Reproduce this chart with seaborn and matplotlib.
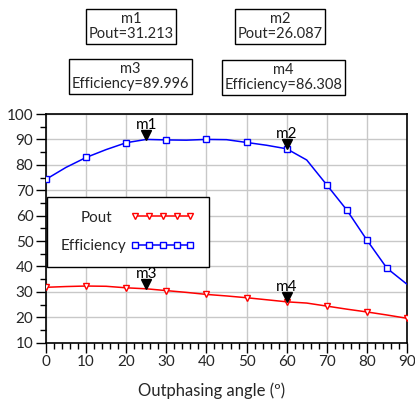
import numpy as np
import pandas as pd
import matplotlib
matplotlib.use("Agg")
import matplotlib.pyplot as plt
from matplotlib.lines import Line2D
from matplotlib.ticker import MultipleLocator
import matplotlib.transforms as mtransforms
import seaborn as sns

# ---- data ----
angle = [0, 5, 10, 15, 20, 25, 30, 35, 40, 45, 50, 55, 60, 65, 70, 75, 80, 85, 90]
efficiency = [74.3, 79.0, 82.9, 86.0, 88.7, 89.996, 89.8, 89.7, 90.0, 89.9, 88.8, 87.7, 86.308, 81.9, 72.1, 62.2, 50.4, 39.3, 33.0]
pout = [31.8, 32.1, 32.3, 32.2, 31.6, 31.213, 30.5, 29.8, 29.0, 28.4, 27.7, 26.9, 26.087, 25.6, 24.4, 23.2, 22.1, 20.9, 19.6]
eff_marker_angles = [0, 10, 20, 30, 40, 50, 60, 70, 75, 80, 85]
pout_marker_angles = [0, 10, 20, 30, 40, 50, 60, 70, 80, 90]
marker_names = ["m1", "m2", "m3", "m4"]
marker_angles = [25, 60, 25, 60]
marker_series = ["Efficiency", "Efficiency", "Pout", "Pout"]
box_lines = [("m1", "Pout=31.213"), ("m2", "Pout=26.087"),
             ("m3", "Efficiency=89.996"), ("m4", "Efficiency=86.308")]
x_ticks = [0, 10, 20, 30, 40, 50, 60, 70, 80, 90]
y_ticks = [10, 20, 30, 40, 50, 60, 70, 80, 90, 100]

df = pd.DataFrame({"angle": angle, "Efficiency": efficiency, "Pout": pout})

sns.set_theme(style="white")
plt.rcParams["font.family"] = ["Lato", "DejaVu Sans"]

fig = plt.figure(figsize=(4.15, 4.01), dpi=100)
ax = fig.add_axes([46 / 415, 1 - 342.7 / 401, 361 / 415, 228.7 / 401])

RED = "#ff0000"
BLUE = "#0000ff"

eff_idx = [angle.index(a) for a in eff_marker_angles]
pout_idx = [angle.index(a) for a in pout_marker_angles]

sns.lineplot(data=df, x="angle", y="Pout", ax=ax, color=RED, linewidth=1.1,
             marker="v", markersize=5, markerfacecolor="white", markeredgecolor=RED,
             markeredgewidth=1.0, markevery=pout_idx, zorder=3)
sns.lineplot(data=df, x="angle", y="Efficiency", ax=ax, color=BLUE, linewidth=1.1,
             marker="s", markersize=4.5, markerfacecolor="white", markeredgecolor=BLUE,
             markeredgewidth=1.0, markevery=eff_idx, zorder=3)

ax.set_xlim(0, 90)
ax.set_ylim(10, 100)
ax.set_xticks(x_ticks)
ax.set_yticks(y_ticks)
ax.xaxis.set_minor_locator(MultipleLocator(2))
ax.yaxis.set_minor_locator(MultipleLocator(5))
ax.grid(True, which="major", color="#c8c8c8", linewidth=1.0)
ax.set_axisbelow(True)
for s in ax.spines.values():
    s.set_visible(True)
    s.set_color("black")
    s.set_linewidth(1.2)

ax.tick_params(axis="x", which="major", direction="out", length=7, width=1.0,
               color="black", labelsize=11, pad=2, bottom=True)
ax.tick_params(axis="x", which="minor", direction="out", length=4, width=1.0,
               color="black", bottom=True)
ax.tick_params(axis="y", which="major", direction="out", length=7, width=1.0,
               color="black", labelsize=11, pad=2, left=True)
ax.tick_params(axis="y", which="minor", direction="out", length=4, width=1.0,
               color="black", left=True)

ax.set_xlabel("Outphasing angle (º)", fontsize=12)
ax.set_ylabel("")
ax.xaxis.set_label_coords(0.46, -0.175)

# marker triangles and labels
series_map = {"Efficiency": efficiency, "Pout": pout}
tri_tr = mtransforms.offset_copy(ax.transData, fig=fig, x=0, y=3.2, units="points")
for name, a, ser in zip(marker_names, marker_angles, marker_series):
    yv = series_map[ser][angle.index(a)]
    ax.plot([a], [yv], marker="v", color="black", markersize=6.5, linestyle="none",
            transform=tri_tr, zorder=5)
    ax.annotate(name, xy=(a, yv), xytext=(0, 10.5), textcoords="offset points",
                ha="center", va="center", fontsize=11, color="black", zorder=6)

# legend (proxy handles)
handles = [
    Line2D([], [], color=RED, linewidth=1.1, marker="v", markersize=5,
           markerfacecolor="white", markeredgecolor=RED, markeredgewidth=1.0),
    Line2D([], [], color=BLUE, linewidth=1.1, marker="s", markersize=4.5,
           markerfacecolor="white", markeredgecolor=BLUE, markeredgewidth=1.0),
]
leg = ax.legend(handles, ["Pout", "Efficiency"], loc="upper left",
                bbox_to_anchor=(0.002, 0.637), borderaxespad=0, markerfirst=False,
                numpoints=5, handlelength=4.2, handletextpad=0.3, labelspacing=0.95,
                borderpad=0.9, fontsize=11, frameon=True, fancybox=False,
                edgecolor="black", framealpha=1.0)
leg.get_frame().set_linewidth(1.0)
# nudge the short label towards the centre of the label column, as in the reference
leg.texts[0].set_x(-14)

# top info boxes
box_centers = [(131, 26.5), (280, 26.5), (130.5, 76.5), (283.5, 77.5)]
for (l1, l2), (cx, cy) in zip(box_lines, box_centers):
    fig.text(cx / 415, 1 - cy / 401, l1 + "\n" + l2, ha="center", va="center",
             fontsize=10.5, linespacing=1.05, multialignment="center",
             bbox=dict(boxstyle="square,pad=0.2", facecolor="white",
                       edgecolor="black", linewidth=1.0))

fig.savefig("out.png", dpi=100)
